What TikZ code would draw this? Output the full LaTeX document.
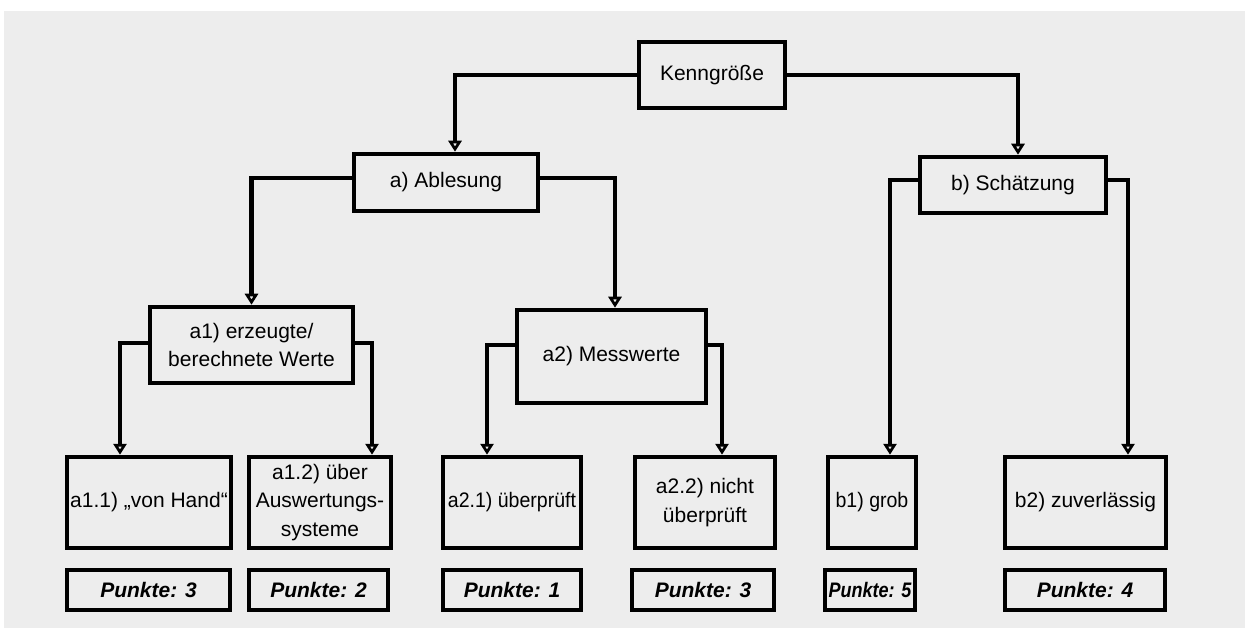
\documentclass[tikz,border=0pt]{standalone}
\usepackage{fontspec}
\setmainfont{Liberation Sans}
\usetikzlibrary{arrows.meta}
\definecolor{bg}{RGB}{237,237,237}
\tikzset{
  box/.style={draw, line width=4.5pt, inner sep=0pt, align=center,
    font=\fontsize{21}{28.5}\selectfont},
  pbox/.style={box, font=\fontsize{21}{28}\selectfont\bfseries\itshape},
  conn/.style={line width=4.5pt, -{Triangle[open,length=11pt,width=13pt,line width=3pt]}},
}
\begin{document}
\begin{tikzpicture}[x=1pt,y=-1pt]
\useasboundingbox (0,0) rectangle (1245,628);
\fill[white] (0,0) rectangle (1245,628);
\fill[bg] (4,11) rectangle (1245,628);

\node[box, minimum width=146, minimum height=66] (k) at (712,75) {Kenngröße};
\node[box, minimum width=184, minimum height=57] (a) at (446,182.5) {a) Ablesung};
\node[box, minimum width=186, minimum height=56] (b) at (1013,185) {b) Schätzung};
\node[box, minimum width=203, minimum height=76] (a1) at (251.5,345) {a1) erzeugte/\\berechnete Werte};
\node[box, minimum width=189, minimum height=93] (a2) at (611.5,356.5) {a2) Messwerte};

\node[box, minimum width=164, minimum height=91] (a11) at (149,502.5) {a1.1) „von Hand“};
\node[box, minimum width=142, minimum height=91] (a12) at (320,502.5) {a1.2) über\\Auswertungs-\\systeme};
\node[box, minimum width=138, minimum height=91] (a21) at (512,502.5) {\scalebox{0.93}[1]{a2.1) überprüft}};
\node[box, minimum width=140, minimum height=91] (a22) at (705,502.5) {a2.2) nicht\\überprüft};
\node[box, minimum width=88, minimum height=91] (b1) at (872,502.5) {\scalebox{0.93}[1]{b1) grob}};
\node[box, minimum width=161, minimum height=91] (b2) at (1085.5,502.5) {b2) zuverlässig};

\node[pbox, minimum width=163, minimum height=40] (p1) at (148.5,590) {Punkte: 3};
\node[pbox, minimum width=139, minimum height=40] (p2) at (318.5,590) {Punkte: 2};
\node[pbox, minimum width=138, minimum height=40] (p3) at (512,590) {Punkte: 1};
\node[pbox, minimum width=142, minimum height=40] (p4) at (703,590) {Punkte: 3};
\node[pbox, minimum width=90, minimum height=40] (p5) at (870,590) {\scalebox{0.86}[1]{Punkte: 5}};
\node[pbox, minimum width=160, minimum height=40] (p6) at (1085,590) {Punkte: 4};

\draw[conn] (k.west) -| ([xshift=9]a.north);
\draw[conn] (k.east) -| ([xshift=5]b.north);
\draw[conn] ([yshift=4.5]a.west) -| (a1.north);
\draw[conn] ([yshift=4.5]a.east) -| ([xshift=3.5]a2.north);
\draw[conn] ([yshift=5]b.west) -| ([xshift=18]b1.north);
\draw[conn] ([yshift=5]b.east) -| ([xshift=42.5]b2.north);
\draw[conn] ([yshift=2]a1.west) -| ([xshift=-29]a11.north);
\draw[conn] ([yshift=2]a1.east) -| ([xshift=52]a12.north);
\draw[conn] ([yshift=11.5]a2.west) -| ([xshift=-25]a21.north);
\draw[conn] ([yshift=11.5]a2.east) -| ([xshift=17]a22.north);
\end{tikzpicture}
\end{document}
